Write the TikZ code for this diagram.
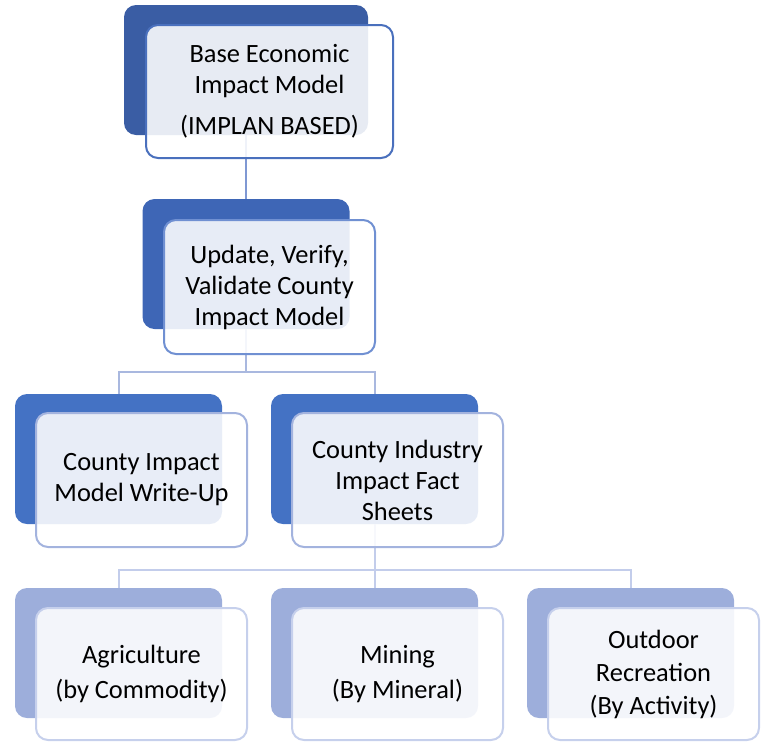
\documentclass[tikz,border=0pt]{standalone}
\usepackage{fontspec}
\setmainfont{Carlito}

\definecolor{darkA}{HTML}{3A5DA4}
\definecolor{darkB}{HTML}{3E66B6}
\definecolor{darkC}{HTML}{4472C4}
\definecolor{darkD}{HTML}{9DAEDB}
\definecolor{edgeA}{HTML}{4A70BD}
\definecolor{edgeB}{HTML}{7090D2}
\definecolor{edgeC}{HTML}{A3B3DE}
\definecolor{edgeD}{HTML}{C6D0EC}
\definecolor{linkA}{HTML}{7F98D3}
\definecolor{linkB}{HTML}{A9B8DF}
\definecolor{linkC}{HTML}{C3CDEB}

\tikzset{
    backbox/.style={fill=#1, rounded corners=12pt, inner sep=0pt,
        minimum width=207pt, minimum height=130pt},
    frontbox/.style={draw=#1, line width=2pt, fill=white, fill opacity=0.88,
        text opacity=1, rounded corners=12pt, inner sep=0pt, align=center,
        minimum width=211pt, minimum height=134pt,
        font=\fontsize{26.4pt}{31pt}\selectfont},
    link/.style={draw=#1, line width=2pt},
}

\begin{document}
\begin{tikzpicture}[x=1pt,y=-1pt]
                \useasboundingbox (0,0) rectangle (767,742);

                % back boxes
                \node[backbox=darkA, minimum width=244pt] (base back) at (246,70) {};
                \node[backbox=darkB] (update back) at (246,264) {};
                \node[backbox=darkC] (writeup back) at (118.5,459) {};
                \node[backbox=darkC] (facts back) at (374.5,459) {};
                \node[backbox=darkD] (agri back) at (118.5,653) {};
                \node[backbox=darkD] (mining back) at (374.5,653) {};
                \node[backbox=darkD] (outdoor back) at (630.5,653) {};

                % connectors
                \draw[link=linkA] (base back.south) -- (update back.north);
                \coordinate (split1) at (246,372);
                \draw[link=linkB] (update back.south) -- (split1);
                \draw[link=linkB] (split1) -| (writeup back.north);
                \draw[link=linkB] (split1) -| (facts back.north);
                \coordinate (split2) at (374.5,570);
                \draw[link=linkC] (facts back.south) -- (split2);
                \draw[link=linkC] (split2) -| (agri back.north);
                \draw[link=linkC] (split2) -- (mining back.north);
                \draw[link=linkC] (split2) -| (outdoor back.north);

                % front boxes
                \node[frontbox=edgeA, minimum width=247pt, minimum height=133pt] (base) at (269.5,91.5)
                    {Base Economic\\Impact Model\\[10pt](IMPLAN BASED)};
                \node[frontbox=edgeB] (update) at (269.5,287)
                    {Update, Verify,\\Validate County\\Impact Model};
                \node[frontbox=edgeC] (writeup) at (141.5,480)
                    {County Impact\\Model Write-Up};
                \node[frontbox=edgeC] (facts) at (397.5,480)
                    {County Industry\\Impact Fact\\Sheets};
                \node[frontbox=edgeD, minimum height=132pt] (agri) at (141.5,674)
                    {Agriculture\\[4pt](by Commodity)};
                \node[frontbox=edgeD, minimum height=132pt] (mining) at (397.5,674)
                    {Mining\\[4pt](By Mineral)};
                \node[frontbox=edgeD, minimum height=132pt] (outdoor) at (653.5,674)
                    {Outdoor\\[2pt]Recreation\\[2pt](By Activity)};
            \end{tikzpicture}
\end{document}
